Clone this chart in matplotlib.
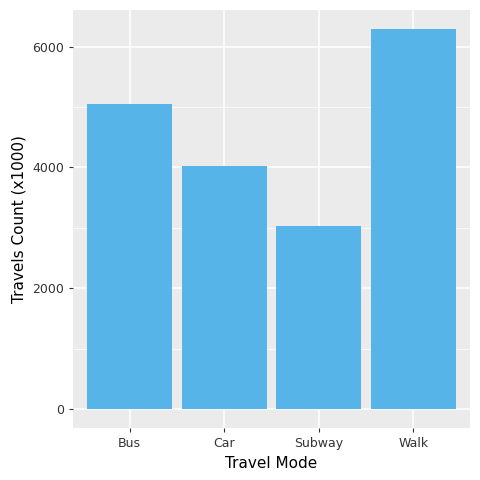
import matplotlib
matplotlib.use("Agg")
import matplotlib.pyplot as plt

modes = ["Bus", "Car", "Subway", "Walk"]
counts = [5050, 4020, 3030, 6290]
yticks = [0, 2000, 4000, 6000]

fig = plt.figure(figsize=(4.8, 4.8), dpi=100)
ax = fig.add_axes([73/480, 52/480, 397/480, 418/480])
ax.set_facecolor("#EBEBEB")
x = list(range(len(modes)))
ax.bar(x, counts, width=0.9, color="#56B4E9", zorder=3)
ax.set_xlim(-0.6, 3.6)
lo, hi = -315, 6605
ax.set_ylim(lo, hi)
ax.set_yticks(yticks)
ax.set_yticks([1000, 3000, 5000], minor=True)
ax.set_xticks(x)
ax.set_xticklabels(modes)
ax.grid(True, which="major", color="white", linewidth=1.1, zorder=0)
ax.grid(True, which="minor", axis="y", color="white", linewidth=0.5, zorder=0)
for s in ax.spines.values():
    s.set_visible(False)
ax.tick_params(axis="both", which="major", colors="#333333", labelsize=9, length=3, color="#333333")
ax.tick_params(axis="y", which="minor", length=0)
ax.set_xlabel("Travel Mode", fontsize=11)
ax.set_ylabel("Travels Count (x1000)", fontsize=11)
fig.savefig("out.png")
